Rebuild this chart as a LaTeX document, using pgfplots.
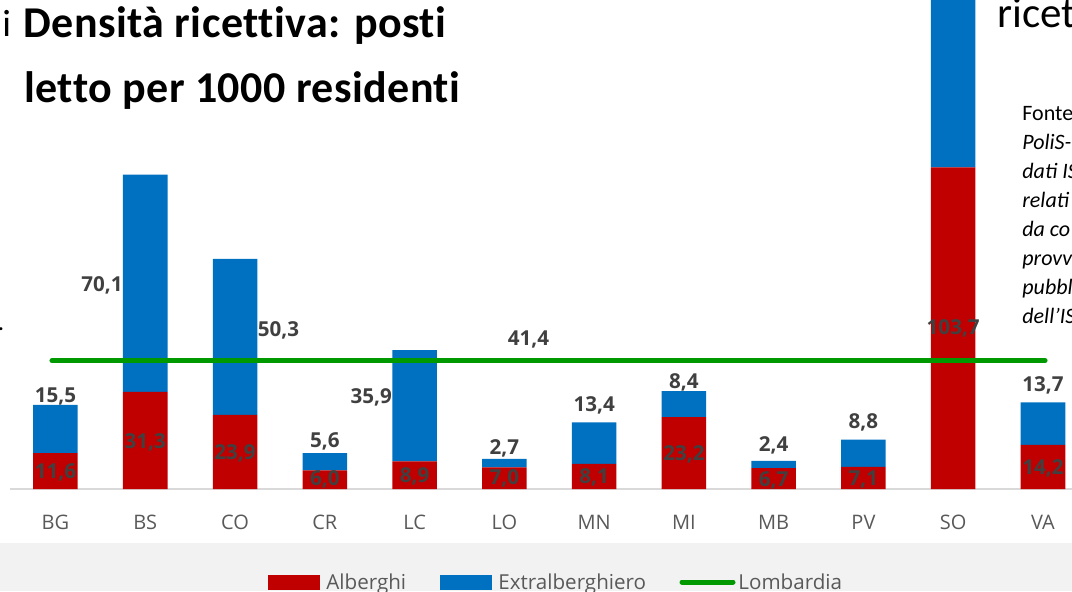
\documentclass[border=0pt]{standalone}
\usepackage{fontspec}
\setmainfont{Open Sans}
\newfontfamily\calfont{Carlito}
\newfontfamily\titlefont{Carlito}[Ligatures=NoCommon, LetterSpace=1]
\usepackage{pgfplots}
\usepackage{pgfplotstable}
\pgfplotsset{compat=1.18}

\definecolor{alb}{HTML}{C00000}
\definecolor{extra}{HTML}{0070C0}
\definecolor{lomb}{HTML}{009A00}
\definecolor{lab}{HTML}{404040}
\definecolor{tick}{HTML}{595959}
\definecolor{band}{HTML}{F2F2F2}
\definecolor{baseln}{HTML}{D9D9D9}

% posti letto per 1000 residenti (SO extralberghiero esce dal riquadro: stimato)
\pgfplotstableread{
idx alb extra
0 11.6 15.5
1 31.3 70.1
2 23.9 50.3
3 6.0 5.6
4 8.9 35.9
5 7.0 2.7
6 8.1 13.4
7 23.2 8.4
8 6.7 2.4
9 7.1 8.8
10 103.7 60
11 14.2 13.7
}\dati

\pgfplotsset{
  base/.style={at={(0pt,51pt)}, anchor=south west, scale only axis,
    width=536pt, height=244.5pt,
    xmin=-0.618, xmax=11.323, ymin=0, ymax=157.7},
}
\tikzset{val/.style={inner sep=0pt, text=lab, font=\fontsize{10.3}{12}\selectfont\bfseries}}

\begin{document}
\begin{tikzpicture}
\path[use as bounding box] (0,0) rectangle (536pt,295.5pt);
\clip (0,0) rectangle (536pt,295.5pt);

\begin{scope}[x=0.5pt,y=-0.5pt,shift={(0pt,295.5pt)}]
  \fill[band] (0,543) rectangle (1072,591);
\end{scope}

\begin{axis}[base,
  ybar stacked, bar width=0.496, bar shift=0pt,
  hide y axis, axis x line*=bottom, x axis line style={draw=none},
  xtick={0,...,11},
  xticklabels={BG,BS,CO,CR,LC,LO,MN,MI,MB,PV,SO,VA},
  major tick length=0pt,
  xticklabel style={anchor=base, yshift=-20pt, text=tick,
    font=\fontsize{10}{12}\selectfont},
]
\addplot[fill=alb, draw=none] table[x=idx, y=alb] {\dati};
\addplot[fill=extra, draw=none] table[x=idx, y=extra] {\dati};
\draw[baseln, line width=0.8pt] (axis cs:-0.507,0) -- (axis cs:11.4,0);
\end{axis}

% media regionale ed etichette dei valori, sopra le barre
\begin{axis}[base, hide axis]
\addplot[lomb, line width=2.5pt, line cap=round] coordinates {(-0.039,41.4) (11.023,41.4)};
\node[val] at (axis cs:0,29.7) {15,5};
\node[val] at (axis cs:0,5.5) {11,6};
\node[val, anchor=east] at (axis cs:0.752,65.8) {70,1};
\node[val] at (axis cs:1,15.2) {31,3};
\node[val, anchor=west] at (axis cs:2.25,51.3) {50,3};
\node[val] at (axis cs:2,11.6) {23,9};
\node[val] at (axis cs:3,15.2) {5,6};
\node[val] at (axis cs:3,3.0) {6,0};
\node[val, anchor=east] at (axis cs:3.752,29.4) {35,9};
\node[val] at (axis cs:4,4.0) {8,9};
\node[val] at (axis cs:5,13.2) {2,7};
\node[val] at (axis cs:5,3.3) {7,0};
\node[val] at (axis cs:5.27,48.1) {41,4};
\node[val] at (axis cs:6,27.1) {13,4};
\node[val] at (axis cs:6,3.6) {8,1};
\node[val] at (axis cs:7,34.5) {8,4};
\node[val] at (axis cs:7,11.3) {23,2};
\node[val] at (axis cs:8,14.2) {2,4};
\node[val] at (axis cs:8,2.9) {6,7};
\node[val] at (axis cs:9,21.6) {8,8};
\node[val] at (axis cs:9,3.0) {7,1};
\node[val] at (axis cs:10,51.9) {103,7};
\node[val] at (axis cs:11,33.5) {13,7};
\node[val] at (axis cs:11,6.8) {14,2};
\end{axis}

\begin{scope}[x=0.5pt,y=-0.5pt,shift={(0pt,295.5pt)}]
  % legenda
  \fill[alb] (268,575) rectangle (320,590);
  \node[anchor=base west, inner sep=0, text=tick, font=\fontsize{10.3}{12}\selectfont] at (326,589) {Alberghi};
  \fill[extra] (440,575) rectangle (492,590);
  \node[anchor=base west, inner sep=0, text=tick, font=\fontsize{10.3}{12}\selectfont] at (498,589) {Extralberghiero};
  \draw[lomb, line width=2.5pt, line cap=round] (682,582) -- (733,582);
  \node[anchor=base west, inner sep=0, text=tick, font=\fontsize{10.3}{12}\selectfont] at (738,589) {Lombardia};

  % titolo e testi della slide
  \node[anchor=base west, inner sep=0, font=\calfont\fontsize{19}{22}\selectfont] at (2,36) {i};
  \node[anchor=base west, inner sep=0, font=\titlefont\bfseries\fontsize{22}{26}\selectfont] at (23,38) {Densità ricettiva: posti};
  \node[anchor=base west, inner sep=0, font=\titlefont\bfseries\fontsize{22}{26}\selectfont] at (24,102) {letto per 1000 residenti};
  \node[anchor=base west, inner sep=0, font=\calfont\fontsize{21.5}{25}\selectfont] at (997,27) {ricet};
  \node[anchor=base west, inner sep=0, font=\calfont\bfseries] at (-2,330) {.};
  \node[anchor=base west, inner sep=0, font=\calfont\fontsize{11}{13}\selectfont] at (1022,120) {Fonte};
  \begin{scope}[every node/.style={anchor=base west, inner sep=0, font=\calfont\itshape\fontsize{11}{13}\selectfont}]
    \node at (1022,149) {PoliS-};
    \node at (1022,178) {dati IS};
    \node at (1022,207) {relati};
    \node at (1022,236) {da co};
    \node at (1022,265) {provv};
    \node at (1022,294) {pubbl};
    \node at (1022,323) {dell’IS};
  \end{scope}
\end{scope}
\end{tikzpicture}
\end{document}
